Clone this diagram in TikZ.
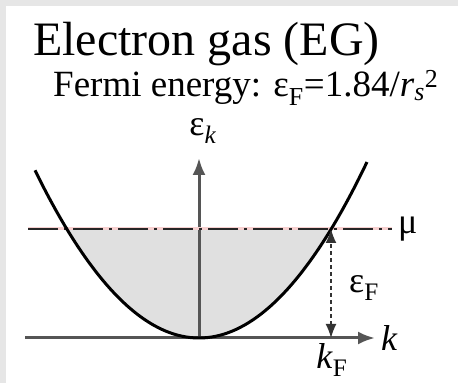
\documentclass[tikz,border=0pt]{standalone}
\usepackage{fontspec}
\setmainfont{Liberation Serif}
\usetikzlibrary{arrows.meta,positioning,calc}
\definecolor{frame}{HTML}{E6E6E6}
\definecolor{axisgray}{HTML}{555555}
\definecolor{fillgray}{HTML}{E0E0E0}
\definecolor{mured}{HTML}{F7D0D0}
\tikzset{axis/.style={draw=axisgray,line width=3pt,-{Latex[length=17pt,width=13pt]}},band/.style={draw=black,line width=3pt},level/.style={draw=black!85,line width=1.4pt,dash pattern=on 30pt off 6pt on 3pt off 6pt},gap/.style={draw=black!80,line width=1.6pt,dash pattern=on 4pt off 3pt,{Latex[length=14pt,width=11pt]}-{Latex[length=14pt,width=11pt]}},lbl/.style={font=\fontsize{36}{38}\selectfont,inner sep=0pt}}

\begin{document}
\begin{tikzpicture}[x=1pt,y=1pt]
\useasboundingbox (0,0) rectangle (458,383);
\fill[white] (0,0) rectangle (458,383);
\fill[frame] (0,0) rectangle (6,383);
\fill[frame] (0,377) rectangle (458,383);
\node[anchor=base west,inner sep=0pt,font=\fontsize{48}{50}\selectfont] (title) at (33,327) {Electron gas (EG)};
\node[anchor=base west,inner sep=0pt,font=\fontsize{37}{39}\selectfont] (sub) at (53,286) {Fermi energy: ε\textsubscript{F}=1.84/\textit{r}\textsubscript{\textit{s}}\textsuperscript{2}};
% filled states
\fill[fillgray] plot[domain=-13.2:13.2,samples=60] ({199+10*\x},{45+0.6236*\x*\x}) -- cycle;
\coordinate (o) at (199,45);
\coordinate (kl) at (25,45);
\coordinate (kr) at (375,45);
\coordinate (et) at (199,225);
\coordinate (ml) at (28,154);
\coordinate (mr) at (392,154);
\coordinate (kf) at (331,45);
\coordinate (mf) at (331,154);
\draw[axis] (kl)--(kr);
\draw[axis] (o)--(et);
\draw[mured,line width=3pt] (ml)--(mr);
\draw[level] (ml)--(mr);
\draw[band] plot[domain=-16.4:16.8,samples=80] ({199+10*\x},{45+0.6236*\x*\x});
\draw[gap] (kf)--(mf);
\node[lbl] (ek) at (203,252) {ε\textsubscript{\textit{k}}};
\node[lbl,right=6pt of mr] (mu) {μ};
\node[lbl,right=6pt of kr] (k) {\textit{k}};
\node[lbl] (ef) at (364,95) {ε\textsubscript{F}};
\node[lbl] (kfl) at (332,23) {\textit{k}\textsubscript{F}};
\end{tikzpicture}
\end{document}
